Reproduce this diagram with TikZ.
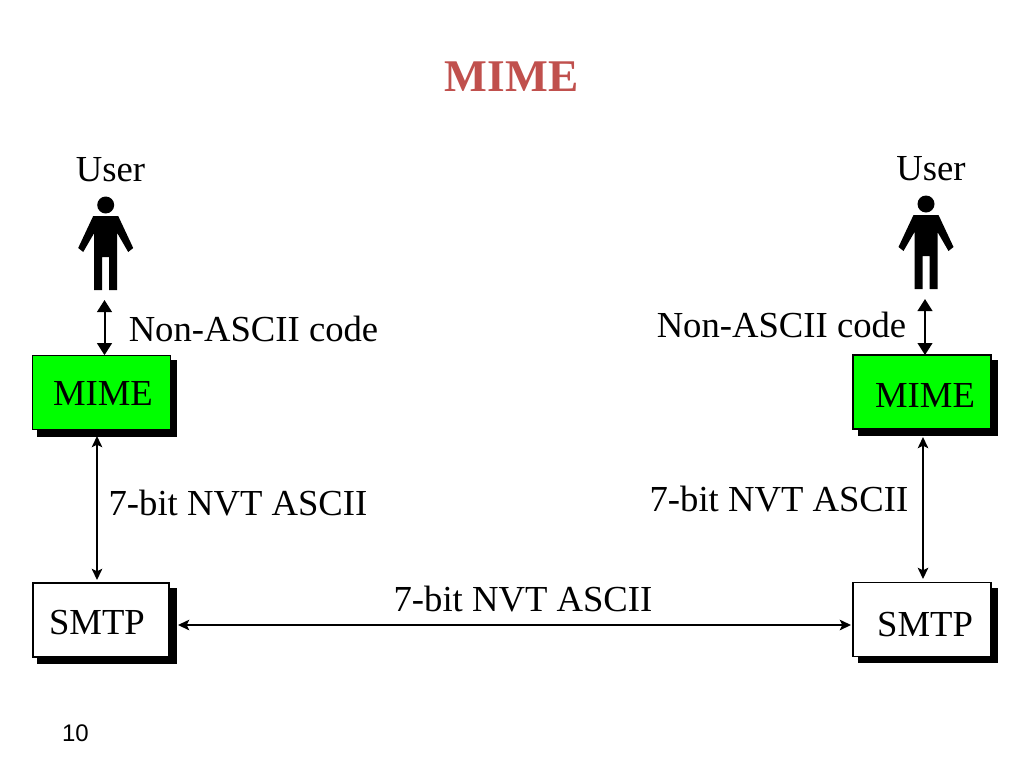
\documentclass[tikz,border=0pt]{standalone}
\usepackage{fontspec}
\setmainfont{Liberation Serif}
\newfontfamily\numfont{Liberation Sans}
\usetikzlibrary{arrows.meta,calc}
\definecolor{titlered}{RGB}{192,80,77}
\definecolor{boxgreen}{RGB}{0,255,0}
\newcommand{\boxtext}[3]{\hspace*{#1}\raisebox{#2}[0pt][0pt]{#3}}
\tikzset{
  x=0.75pt,y=-0.75pt,
  blockbox/.style={draw=black,line width=0.9pt,inner sep=0pt,outer sep=0pt,font=\fontsize{27.5}{30}\selectfont},
  shadowbox/.style={fill=black,draw=none},
  lbl/.style={inner sep=0pt,outer sep=0pt,font=\fontsize{27.5}{30}\selectfont},
  bigarrow/.style={{Triangle[length=9pt,width=11pt]}-{Triangle[length=9pt,width=11pt]},line width=1.5pt},
  thinarrow/.style={{Stealth[length=8.5pt,width=8pt,inset=2pt]}-{Stealth[length=8.5pt,width=8pt,inset=2pt]},line width=1pt},
  personfill/.style={fill=black,draw=none},
  person/.pic={
    \fill[personfill] (0,-85) circle[radius=8.5];
    \fill[personfill] (-12.5,-74) -- (12.5,-74) -- (27.5,-42) -- (22.5,-38) -- (11.5,-57) -- (11.5,0) -- (3.5,0) -- (3.5,-33) -- (-3.5,-33) -- (-3.5,0) -- (-11.5,0) -- (-11.5,-57) -- (-22.5,-38) -- (-27.5,-42) -- cycle;
  }
}
\begin{document}
\begin{tikzpicture}
\useasboundingbox (0,0) rectangle (1024,768);
\fill[white] (0,0) rectangle (1024,768);

\node[inner sep=0pt,text=titlered,font=\fontsize{34}{36}\bfseries\selectfont] (title) at (511.5,77) {MIME};

% shadows
\fill[shadowbox] (37,360) rectangle (177,437);
\fill[shadowbox] (37,588) rectangle (177,664);
\fill[shadowbox] (858,360) rectangle (998,436);
\fill[shadowbox] (858,588) rectangle (998,663);

% boxes
\node[blockbox,fill=boxgreen,minimum width=103pt,minimum height=56pt] (mimeL) at (101.5,392.5) {\boxtext{2.25pt}{-9.75pt}{MIME}};
\node[blockbox,fill=white,minimum width=102pt,minimum height=55.5pt] (smtpL) at (101,620) {\boxtext{-6pt}{-10.9pt}{SMTP}};
\node[blockbox,fill=boxgreen,minimum width=103.5pt,minimum height=55.5pt] (mimeR) at (922,392) {\boxtext{4.5pt}{-11.25pt}{MIME}};
\node[blockbox,fill=white,minimum width=103.5pt,minimum height=55pt] (smtpR) at (922,619.5) {\boxtext{4.5pt}{-12.4pt}{SMTP}};

% people
\pic at (105.7,290) {person};
\pic at (926,289) {person};
\coordinate (footL) at (104.5,300);
\coordinate (footR) at (925,299);
\coordinate (sideLh) at (178,625);
\coordinate (sideRh) at (851,625);
\coordinate (mimeLb) at (97,436);
\coordinate (smtpLt) at (97,580);
\coordinate (mimeRb) at (923,437);
\coordinate (smtpRt) at (923,579);

% connectors
\draw[bigarrow] (footL) -- (footL |- mimeL.north);
\draw[bigarrow] (footR) -- (footR |- mimeR.north);
\draw[thinarrow] (mimeLb) -- (smtpLt);
\draw[thinarrow] (mimeRb) -- (smtpRt);
\draw[thinarrow] (sideLh) -- (sideRh);

% labels
\node[lbl,anchor=center] (userL) at (110.5,170) {User};
\node[lbl,anchor=center] (userR) at (931,169) {User};
\node[lbl] (codeL) at (253.5,329) {Non-ASCII code};
\node[lbl] (codeR) at (781.5,325) {Non-ASCII code};
\node[lbl] (nvtL) at (238,503) {7-bit NVT ASCII};
\node[lbl] (nvtR) at (779,499) {7-bit NVT ASCII};
\node[lbl] (nvtM) at (523,599) {7-bit NVT ASCII};
\node[inner sep=0pt,font=\numfont\fontsize{18}{20}\selectfont] (pageno) at (75.5,733.5) {10};
\end{tikzpicture}
\end{document}
